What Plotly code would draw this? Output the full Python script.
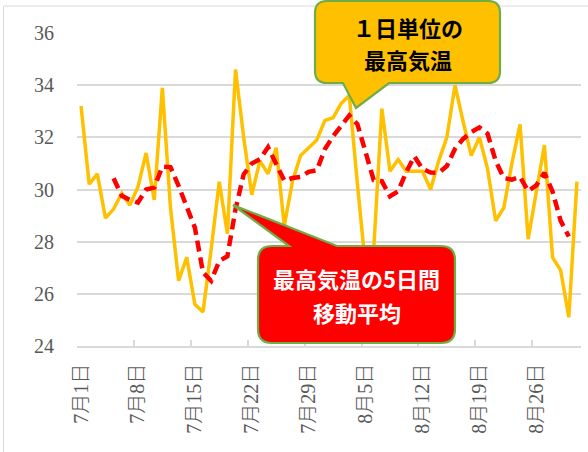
import plotly.graph_objects as go

# ---- data ----
dates = [f"7月{d}日" for d in range(1, 32)] + [f"8月{d}日" for d in range(1, 32)]

daily_max = [33.2, 30.2, 30.6, 28.9, 29.25, 29.85, 29.4, 30.1, 31.4, 29.6,
             33.9, 29.3, 26.5, 27.4, 25.6, 25.3, 27.7, 30.3, 28.3, 34.6,
             32.0, 29.8, 31.1, 30.6, 31.6, 28.6, 30.3, 31.3, 31.6, 31.9,
             32.65, 32.75, 33.3, 33.6, 30.2, 27.0, 27.7, 33.1, 30.7, 31.15,
             30.7, 30.7, 30.7, 30.0, 31.1, 32.0, 34.0, 32.6, 31.3, 32.0,
             30.8, 28.8, 29.3, 31.0, 32.5, 28.1, 29.9, 31.7, 27.4, 26.9,
             25.1, 30.3]

moving_avg_5d = [None, None, None, None,
                 30.43, 29.76, 29.60, 29.50, 30.00, 30.07, 30.88, 30.86, 30.14, 29.34,
                 28.54, 26.82, 26.50, 27.26, 27.44, 29.24, 30.58, 31.00, 31.16, 31.62,
                 31.02, 30.34, 30.44, 30.48, 30.68, 30.74, 31.55, 32.04, 32.44, 32.84,
                 32.50, 31.37, 30.36, 30.32, 29.74, 29.93, 30.67, 31.27, 30.79, 30.65,
                 30.64, 30.90, 31.56, 31.94, 32.20, 32.38, 32.14, 31.10, 30.44, 30.38,
                 30.48, 29.94, 30.16, 30.64, 29.92, 28.80, 28.20,
                 None]

tick_labels = ["7月1日", "7月8日", "7月15日", "7月22日", "7月29日",
               "8月5日", "8月12日", "8月19日", "8月26日"]
y_ticks = [24, 26, 28, 30, 32, 34, 36]

label_daily = ["１日単位の", "最高気温"]
label_ma = ["最高気温の5日間", "移動平均"]

# ---- layout geometry (pixels) ----
W, H = 588, 452
L, R, T, B = 77, 7, 33, 106
PW, PH = W - L - R, H - T - B


def px(x):
    return (x - L) / PW


def py(y):
    return (H - B - y) / PH


def pt(x, y):
    return f"{px(x):.5f},{py(y):.5f}"


idx = list(range(len(dates)))
tick_idx = [dates.index(t) for t in tick_labels]
boundary_ticks = [i - 0.5 for i in tick_idx]

fig = go.Figure()
fig.add_trace(go.Scatter(
    x=idx, y=daily_max, mode="lines", customdata=dates,
    line=dict(color="#FFC000", width=3.5),
    hovertemplate="%{customdata}: %{y}<extra></extra>", showlegend=False))
fig.add_trace(go.Scatter(
    x=idx, y=moving_avg_5d, mode="lines", customdata=dates,
    line=dict(color="#FF0000", width=4.5, dash="11px,6px"),
    hovertemplate="%{customdata}: %{y}<extra></extra>", showlegend=False))
# invisible trace to carry the boundary tick-mark axis
fig.add_trace(go.Scatter(x=[-0.5], y=[None], xaxis="x2", mode="lines",
                         showlegend=False, hoverinfo="skip"))

axis_font = dict(family="Liberation Serif, Noto Sans CJK JP, serif",
                 size=20, color="#595959", weight=300)

fig.update_layout(
    width=W, height=H,
    margin=dict(l=L, r=R, t=T, b=B, pad=0, autoexpand=False),
    paper_bgcolor="white", plot_bgcolor="white",
    xaxis=dict(range=[-0.5, len(dates) - 0.5], tickmode="array",
               tickvals=tick_idx, ticktext=tick_labels, tickangle=-90,
               ticks="", showgrid=False, zeroline=False, automargin=False,
               showline=True, linecolor="#d9d9d9", linewidth=1.5,
               tickfont=axis_font, ticklabelstandoff=8),
    xaxis2=dict(range=[-0.5, len(dates) - 0.5], overlaying="x", anchor="y",
                side="bottom", tickmode="array", tickvals=boundary_ticks,
                ticks="inside", ticklen=6, tickwidth=1.5, tickcolor="#d9d9d9",
                showticklabels=False, showgrid=False, zeroline=False,
                showline=False, automargin=False),
    yaxis=dict(range=[24, 36], tickmode="array", tickvals=y_ticks,
               showgrid=True, gridcolor="#d9d9d9", gridwidth=1.5,
               zeroline=False, showline=False, ticks="", automargin=False,
               tickfont=axis_font, ticklabelstandoff=22),
)

shapes = []
# chart border
shapes.append(dict(type="rect", xref="paper", yref="paper",
                   x0=px(3.5), x1=px(592), y0=py(6), y1=py(460),
                   line=dict(color="#d9d9d9", width=1), fillcolor="rgba(0,0,0,0)",
                   layer="below"))

# yellow callout (pointer from bottom edge)
x0, x1, y0, y1, r = 315, 500, 1, 83, 12
bx0, bx1, tx, ty = 343, 389, 356, 108
path_y = (f"M{pt(x0 + r, y0)} L{pt(x1 - r, y0)} Q{pt(x1, y0)} {pt(x1, y0 + r)} "
          f"L{pt(x1, y1 - r)} Q{pt(x1, y1)} {pt(x1 - r, y1)} L{pt(bx1, y1)} "
          f"L{pt(tx, ty)} L{pt(bx0, y1)} L{pt(x0 + r, y1)} Q{pt(x0, y1)} {pt(x0, y1 - r)} "
          f"L{pt(x0, y0 + r)} Q{pt(x0, y0)} {pt(x0 + r, y0)} Z")
shapes.append(dict(type="path", xref="paper", yref="paper", path=path_y,
                   fillcolor="#FFC000", line=dict(color="#70AD47", width=2.2),
                   layer="above"))

# red callout (pointer from top edge)
x0, x1, y0, y1, r = 258, 455, 246, 343, 14
bx0, bx1, tx, ty = 289, 337, 233, 205
path_r = (f"M{pt(x0 + r, y0)} L{pt(bx0, y0)} L{pt(tx, ty)} L{pt(bx1, y0)} "
          f"L{pt(x1 - r, y0)} Q{pt(x1, y0)} {pt(x1, y0 + r)} "
          f"L{pt(x1, y1 - r)} Q{pt(x1, y1)} {pt(x1 - r, y1)} "
          f"L{pt(x0 + r, y1)} Q{pt(x0, y1)} {pt(x0, y1 - r)} "
          f"L{pt(x0, y0 + r)} Q{pt(x0, y0)} {pt(x0 + r, y0)} Z")
shapes.append(dict(type="path", xref="paper", yref="paper", path=path_r,
                   fillcolor="#FF0000", line=dict(color="#70AD47", width=2.2),
                   layer="above"))
fig.update_layout(shapes=shapes)

cjk_bold = "Noto Sans CJK JP, sans-serif"
annots = []
for text, yy in zip(label_daily, [27, 59]):
    annots.append(dict(xref="paper", yref="paper", x=px(407.5), y=py(yy),
                       text=f"<b>{text}</b>", showarrow=False,
                       xanchor="center", yanchor="middle",
                       font=dict(family=cjk_bold, size=22, color="black")))
for text, yy in zip(label_ma, [278, 312]):
    annots.append(dict(xref="paper", yref="paper", x=px(356.5), y=py(yy),
                       text=f"<b>{text}</b>", showarrow=False,
                       xanchor="center", yanchor="middle",
                       font=dict(family=cjk_bold, size=22, color="white")))
fig.update_layout(annotations=annots)

fig.write_html("out.html", config={"displayModeBar": False},
               post_script="document.body.style.margin='0';"
                           "document.body.style.overflow='hidden';")
